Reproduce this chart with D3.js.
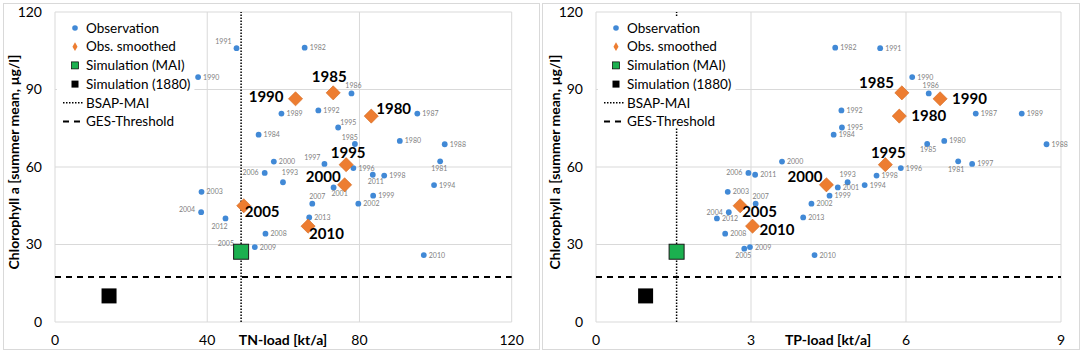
<!DOCTYPE html>
<html>
<head>
<meta charset="utf-8">
<script src="https://cdn.jsdelivr.net/npm/d3@7"></script>
<style>
  body { margin: 0; background: #fff; }
  svg { display: block; font-family: Lato, "Open Sans", sans-serif; }
</style>
</head>
<body>
<svg width="1084" height="354"></svg>
<script>
// observation years (1983 not shown)
const years = [1980, 1981, 1982, 1984, 1985, 1986, 1987, 1988, 1989, 1990, 1991, 1992, 1993, 1994, 1995, 1996,
  1997, 1998, 1999, 2000, 2001, 2002, 2003, 2004, 2005, 2006, 2007, 2008, 2009, 2010, 2011, 2012, 2013];
// chlorophyll a summer mean, µg/l
const chlObs = [70.1, 62.2, 106.2, 72.5, 68.9, 88.5, 80.7, 68.8, 80.7, 94.8, 106, 81.9, 54.1, 53.0, 75.3, 59.6,
  61.2, 56.7, 48.9, 62.1, 52.1, 45.8, 50.4, 42.5, 28.4, 57.7, 45.8, 34.2, 29.0, 25.9, 57.0, 40.1, 40.5];
// TN load kt/a
const tnObs = [90.6, 101.2, 65.6, 53.5, 78.8, 77.9, 95.2, 102.4, 59.5, 37.6, 47.7, 69.2, 59.9, 99.6, 74.4, 78.4,
  70.8, 86.5, 83.6, 57.5, 73.2, 79.7, 38.5, 38.4, 48.6, 55.1, 67.6, 55.3, 52.5, 96.9, 83.5, 44.8, 66.8];
// TP load kt/a
const tpObs = [6.74, 7.01, 4.63, 4.60, 6.41, 6.44, 7.35, 8.72, 8.24, 6.12, 5.50, 4.75, 4.87, 5.20, 4.76, 5.90,
  7.28, 5.43, 4.52, 3.60, 4.68, 4.17, 2.55, 2.57, 2.87, 2.95, 3.09, 2.50, 2.98, 4.23, 3.08, 2.34, 4.01];

// smoothed observations
const smoothYears = [1980, 1985, 1990, 1995, 2000, 2005, 2010];
const chlSmooth = [79.7, 88.7, 86.4, 60.9, 53.1, 45.0, 37.1];
const tnSmooth = [83.1, 73.1, 63.2, 76.5, 76.1, 49.6, 66.5];
const tpSmooth = [5.87, 5.92, 6.66, 5.60, 4.46, 2.79, 3.03];

// simulations [TN, TP, chl]
const simMAI = [48.9, 1.56, 27.2];
const sim1880 = [14.2, 0.96, 10.1];
const bsapTN = 48.9, bsapTP = 1.56;
const gesThreshold = 17.4;

const yTicks = [0, 30, 60, 90, 120];
const tnTicks = [0, 40, 80, 120];
const tpTicks = [0, 3, 6, 9];

const legendItems = ["Observation", "Obs. smoothed", "Simulation (MAI)", "Simulation (1880)", "BSAP-MAI", "GES-Threshold"];

// label placement: [dx, dy, anchor]
const P = { r: [5, 2.5, "start"], l: [-6, 2.5, "end"], t: [1, -5, "middle"], b: [1, 9, "middle"] };
const tnPlace = { 1991: [-5, -4, "end"], 1986: [2, -5, "middle"], 1995: [2, -2, "start"], 1985: [3, -4, "end"],
  1997: [-4, -4, "end"], 1981: [-9, 10, "start"], 1993: [7, -7, "middle"], 2006: P.l, 2011: [3, 9, "middle"],
  2001: [6, 9, "middle"], 2007: [5, -5, "middle"], 2012: [-6, 11, "middle"], 2004: [-6, 0, "end"], 2005: [-6, -3, "end"] };
const tpPlace = { 1986: [2, -5, "middle"], 1985: [1, 8, "middle"], 1981: [-2, 11, "middle"], 1993: [0, -5, "middle"],
  2006: P.l, 2007: [5, -5, "middle"], 2004: P.l, 2005: [-1, 9, "middle"] };
const tnBig = { 1980: [5, -7, "start"], 1985: [-4, -16, "middle"], 1990: [-12, -2, "end"], 1995: [2, -12, "middle"],
  2000: [-4, -8, "end"], 2005: [1, 6, "start"], 2010: [1, 8, "start"] };
const tpBig = { 1980: [12, 0, "start"], 1985: [-8, -10, "end"], 1990: [12, 0, "start"], 1995: [3, -12, "middle"],
  2000: [-4, -8, "end"], 2005: [2, 6, "start"], 2010: [7, 4, "start"] };

const svg = d3.select("svg");
const blue = "#4189d6", orange = "#ed7d31", green = "#1bb04f", grid = "#d9d9d9";

function panel(o) {
  const x = d3.scaleLinear().domain(o.xDomain).range([o.left, o.right]);
  const y = d3.scaleLinear().domain([0, 120]).range([322, 12]);
  const g = svg.append("g");

  g.append("rect").attr("x", o.frame[0] + 0.5).attr("y", 3.5).attr("width", o.frame[1]).attr("height", 346)
    .attr("fill", "#fff").attr("stroke", grid);

  // grid
  g.selectAll(".hg").data(yTicks).join("line")
    .attr("x1", o.left).attr("x2", o.right).attr("y1", d => y(d)).attr("y2", d => y(d))
    .attr("stroke", grid).attr("stroke-width", 1);
  g.selectAll(".vg").data(o.xTicks).join("line")
    .attr("x1", d => x(d)).attr("x2", d => x(d)).attr("y1", y(0)).attr("y2", y(120))
    .attr("stroke", grid).attr("stroke-width", 1);

  // tick labels
  g.selectAll(".yt").data(yTicks).join("text")
    .attr("x", o.left - 13).attr("y", d => y(d)).attr("dy", "0.35em")
    .attr("text-anchor", "end").attr("font-size", 14).text(d => d);
  g.selectAll(".xt").data(o.xTicks).join("text")
    .attr("x", d => x(d)).attr("y", 340).attr("dy", "0.35em")
    .attr("text-anchor", "middle").attr("font-size", 14).text(d => d);

  // axis titles
  g.append("text").attr("transform", `translate(${o.left - 41},162) rotate(-90)`)
    .attr("text-anchor", "middle").attr("dy", "0.35em").attr("font-size", 14).attr("font-weight", "bold")
    .text("Chlorophyll a [summer mean, µg/l]");
  g.append("text").attr("x", o.titleX).attr("y", 340).attr("dy", "0.35em")
    .attr("text-anchor", "middle").attr("font-size", 14).attr("font-weight", "bold").text(o.title);

  // reference lines
  g.append("line").attr("x1", o.left).attr("x2", o.right).attr("y1", y(gesThreshold)).attr("y2", y(gesThreshold))
    .attr("stroke", "#000").attr("stroke-width", 2).attr("stroke-dasharray", "6,5");
  g.append("line").attr("x1", x(o.bsap)).attr("x2", x(o.bsap)).attr("y1", y(0)).attr("y2", y(120))
    .attr("stroke", "#000").attr("stroke-width", 1.5).attr("stroke-dasharray", "1.5,1.5");

  // legend
  const lg = g.append("g");
  const bg = lg.append("rect").attr("fill", "#fff");
  const lx = o.left + 20, ly0 = 28, step = 18.7;
  legendItems.forEach((t, i) => {
    const cy = ly0 + i * step;
    if (i === 0) lg.append("circle").attr("cx", lx).attr("cy", cy).attr("r", 2.8).attr("fill", blue);
    if (i === 1) lg.append("path").attr("d", d3.symbol(d3.symbolDiamond, 22)()).attr("transform", `translate(${lx},${cy})`).attr("fill", orange);
    if (i === 2) lg.append("rect").attr("x", lx - 3.5).attr("y", cy - 3.5).attr("width", 7).attr("height", 7).attr("fill", green).attr("stroke", "#000").attr("stroke-width", 0.7);
    if (i === 3) lg.append("rect").attr("x", lx - 3.5).attr("y", cy - 3.5).attr("width", 7).attr("height", 7).attr("fill", "#000");
    if (i === 4) lg.append("line").attr("x1", lx - 12).attr("x2", lx + 8).attr("y1", cy).attr("y2", cy)
      .attr("stroke", "#000").attr("stroke-width", 1.5).attr("stroke-dasharray", "1.5,1.5");
    if (i === 5) lg.append("line").attr("x1", lx - 12).attr("x2", lx + 8).attr("y1", cy).attr("y2", cy)
      .attr("stroke", "#000").attr("stroke-width", 2).attr("stroke-dasharray", "6,5");
    lg.append("text").attr("x", lx + 11).attr("y", cy).attr("dy", "0.35em").attr("font-size", 13.5).text(t);
  });
  const bb = lg.node().getBBox();
  bg.attr("x", o.left + 2).attr("y", 17).attr("width", bb.x + bb.width + 4 - (o.left + 2)).attr("height", 111);

  // observations
  const obs = years.map((yr, i) => ({ yr, x: o.xObs[i], y: chlObs[i] }));
  g.selectAll(".obs").data(obs).join("circle")
    .attr("cx", d => x(d.x)).attr("cy", d => y(d.y)).attr("r", 2.9).attr("fill", blue);
  g.selectAll(".obsl").data(obs).join("text")
    .attr("x", d => x(d.x) + (o.place[d.yr] || P.r)[0])
    .attr("y", d => y(d.y) + (o.place[d.yr] || P.r)[1])
    .attr("text-anchor", d => (o.place[d.yr] || P.r)[2])
    .attr("font-size", 7).attr("fill", "#7f7f7f").text(d => d.yr);

  // smoothed
  const sm = smoothYears.map((yr, i) => ({ yr, x: o.xSmooth[i], y: chlSmooth[i] }));
  g.selectAll(".sm").data(sm).join("path")
    .attr("d", d3.symbol(d3.symbolSquare, 100)())
    .attr("transform", d => `translate(${x(d.x)},${y(d.y)}) rotate(45)`)
    .attr("fill", orange).attr("stroke", "#d46a22").attr("stroke-width", 0.6);
  g.selectAll(".sml").data(sm).join("text")
    .attr("x", d => x(d.x) + o.big[d.yr][0]).attr("y", d => y(d.y) + o.big[d.yr][1]).attr("dy", "0.35em")
    .attr("text-anchor", d => o.big[d.yr][2])
    .attr("font-size", 15).attr("font-weight", "bold").text(d => d.yr);

  // simulations
  g.append("rect").attr("x", x(o.mai) - 7.5).attr("y", y(simMAI[2]) - 7.5).attr("width", 15).attr("height", 15)
    .attr("fill", green).attr("stroke", "#1a1a1a").attr("stroke-width", 1);
  g.append("rect").attr("x", x(o.old) - 7.5).attr("y", y(sim1880[2]) - 7.5).attr("width", 15).attr("height", 15)
    .attr("fill", "#000");
}

panel({ frame: [3, 536], left: 55, right: 511.7, xDomain: [0, 120], xTicks: tnTicks, xObs: tnObs, xSmooth: tnSmooth,
  bsap: bsapTN, mai: simMAI[0], old: sim1880[0], title: "TN-load [kt/a]", titleX: 283, place: tnPlace, big: tnBig });
panel({ frame: [542, 537], left: 596, right: 1061, xDomain: [0, 9], xTicks: tpTicks, xObs: tpObs, xSmooth: tpSmooth,
  bsap: bsapTP, mai: simMAI[1], old: sim1880[1], title: "TP-load [kt/a]", titleX: 828, place: tpPlace, big: tpBig });
</script>
</body>
</html>
